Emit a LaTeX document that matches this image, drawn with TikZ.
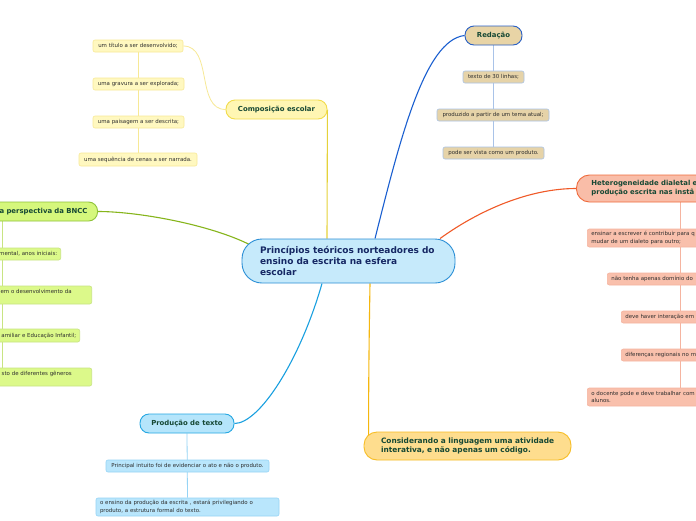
\documentclass[tikz,border=0pt]{standalone}
\usepackage{fontspec}
\setmainfont{DejaVu Sans}
\usetikzlibrary{backgrounds}
\definecolor{txt}{RGB}{45,45,45}
\definecolor{mtxt}{RGB}{22,72,52}
\definecolor{cenT}{RGB}{22,40,100}
\definecolor{cenF}{RGB}{198,234,251}
\definecolor{cenD}{RGB}{43,143,214}
\definecolor{redF}{RGB}{232,212,166}
\definecolor{redD}{RGB}{40,95,196}
\definecolor{redC}{RGB}{230,211,168}
\definecolor{redL}{RGB}{169,195,232}
\definecolor{redW}{RGB}{26,95,208}
\definecolor{compF}{RGB}{255,246,179}
\definecolor{compD}{RGB}{242,220,76}
\definecolor{compC}{RGB}{255,248,192}
\definecolor{compL}{RGB}{247,233,150}
\definecolor{compW}{RGB}{229,210,58}
\definecolor{bF}{RGB}{213,247,124}
\definecolor{bD}{RGB}{143,195,58}
\definecolor{bC}{RGB}{220,249,138}
\definecolor{bL}{RGB}{200,228,130}
\definecolor{bW}{RGB}{134,181,27}
\definecolor{hetF}{RGB}{249,189,168}
\definecolor{hetD}{RGB}{239,108,62}
\definecolor{hC}{RGB}{249,192,172}
\definecolor{hL}{RGB}{245,180,160}
\definecolor{hetW}{RGB}{240,90,40}
\definecolor{pF}{RGB}{181,229,251}
\definecolor{pD}{RGB}{37,167,226}
\definecolor{pC}{RGB}{185,230,252}
\definecolor{pL}{RGB}{150,212,245}
\definecolor{pW}{RGB}{26,160,224}
\definecolor{consF}{RGB}{254,221,142}
\definecolor{consD}{RGB}{247,189,37}
\definecolor{consW}{RGB}{245,183,15}
\tikzset{
  leaf/.style={rectangle, rounded corners=2pt, line width=0.6pt, font=\fontsize{5.45}{7.6}\selectfont, text=txt, inner ysep=0pt, inner xsep=2pt},
  mainbox/.style={rectangle, rounded corners=9pt, line width=0.9pt, font=\fontsize{6.9}{9}\selectfont\bfseries, text=mtxt, inner xsep=2pt, inner ysep=0pt},
  conn/.style={line width=1.1pt},
  sub/.style={line width=0.8pt},
}
\begin{document}
\begin{tikzpicture}[x=1pt,y=-1pt]
\useasboundingbox (0,0) rectangle (696,520);
\clip (0,0) rectangle (696,520);
% centre
\node[rectangle, rounded corners=20pt, fill=cenF, draw=cenD, line width=0.9pt, text width=177pt, align=left, inner xsep=18pt, inner ysep=0pt, minimum height=44pt, font=\fontsize{9}{11.4}\selectfont\bfseries, text=cenT] (c) at (348.5,261) {Princípios teóricos norteadores do\\ensino da escrita na esfera\\escolar};
% Redacao
\node[mainbox, fill=redF, draw=redD, minimum width=57pt, minimum height=19pt] (red) at (493.5,35.5) {Redação};
\node[leaf, fill=redC, draw=redL, minimum width=61pt, minimum height=12pt] (r1) at (493.5,77) {texto de 30 linhas;};
\node[leaf, fill=redC, draw=redL, minimum width=112pt, minimum height=12pt] (r2) at (493,115) {produzido a partir de um tema atual;};
\node[leaf, fill=redC, draw=redL, minimum width=101pt, minimum height=12pt] (r3) at (493.5,153) {pode ser vista como um produto.};
% Composicao
\node[mainbox, fill=compF, draw=compD, minimum width=101pt, minimum height=19pt] (comp) at (276.5,109.5) {Composição escolar};
\node[leaf, fill=compC, draw=compL, minimum width=90pt, minimum height=12pt] (k1) at (138,46) {um título a ser desenvolvido;};
\node[leaf, fill=compC, draw=compL, minimum width=91pt, minimum height=12pt] (k2) at (138.5,84) {uma gravura a ser explorada;};
\node[leaf, fill=compC, draw=compL, minimum width=91pt, minimum height=12pt] (k3) at (138.5,122) {uma paisagem a ser descrita;};
\node[leaf, fill=compC, draw=compL, minimum width=118pt, minimum height=13pt] (k4) at (138,159.5) {uma sequência de cenas a ser narrada.};
% BNCC
\node[mainbox, fill=bF, draw=bD, anchor=east, text width=182pt, align=right, inner xsep=10pt, minimum height=19pt] (bncc) at (98,211.5) {a perspectiva da BNCC};
\node[leaf, fill=bC, draw=bL, anchor=east, text width=120pt, align=right, inner xsep=3.5pt, minimum height=12pt] (b1) at (61,254) {mental, anos iniciais:};
\node[leaf, fill=bC, draw=bL, anchor=east, text width=120pt, align=right, inner xsep=3.5pt, minimum height=18pt] (b2) at (92,295) {em o desenvolvimento da\kern16.5pt\\\mbox{}};
\node[leaf, fill=bC, draw=bL, anchor=east, text width=120pt, align=right, inner xsep=3.5pt, minimum height=13pt] (b3) at (80,335.5) {amiliar e Educação Infantil;};
\node[leaf, fill=bC, draw=bL, anchor=east, text width=120pt, align=right, inner xsep=3.5pt, minimum height=18pt] (b4) at (92,377) {sto de diferentes gêneros\kern16.5pt\\\mbox{}};
% Heterogeneidade
\node[mainbox, rounded corners=13pt, fill=hetF, draw=hetD, anchor=west, text width=200pt, align=left, inner xsep=15pt, minimum height=27pt] (het) at (576,188.5) {Heterogeneidade dialetal e\\produção escrita nas instâ};
\node[leaf, fill=hC, draw=hL, anchor=west, text width=200pt, align=left, inner xsep=4pt, minimum height=18pt] (h1) at (587,238) {ensinar a escrever é contribuir para q\\mudar de um dialeto para outro;};
\node[leaf, fill=hC, draw=hL, anchor=west, text width=200pt, align=left, inner xsep=4pt, minimum height=12pt] (h2) at (607,279) {não tenha apenas domínio do};
\node[leaf, fill=hC, draw=hL, anchor=west, text width=200pt, align=left, inner xsep=4pt, minimum height=12pt] (h3) at (621,317) {deve haver interação em};
\node[leaf, fill=hC, draw=hL, anchor=west, text width=200pt, align=left, inner xsep=4pt, minimum height=12pt] (h4) at (621,355) {diferenças regionais no m};
\node[leaf, fill=hC, draw=hL, anchor=west, text width=200pt, align=left, inner xsep=4pt, minimum height=18pt] (h5) at (587,397) {o docente pode e deve trabalhar com\\alunos.};
% Producao
\node[mainbox, fill=pF, draw=pD, minimum width=94pt, minimum height=19pt] (prod) at (187,423.5) {Produção de texto};
\node[leaf, fill=pC, draw=pL, minimum width=163pt, minimum height=12pt] (p1) at (187.5,466) {Principal intuito foi de evidenciar o ato e não o produto.};
\node[leaf, fill=pC, draw=pL, text width=175pt, align=left, inner xsep=4pt, minimum height=18pt] (p2) at (187.5,507) {o ensino da produção da escrita , estará privilegiando o\\produto, a estrutura formal do texto.};
% Considerando
\node[mainbox, rounded corners=13pt, fill=consF, draw=consD, text width=173pt, align=left, inner xsep=17pt, minimum height=28pt, font=\fontsize{7.4}{9.2}\selectfont\bfseries] (cons) at (467.5,446) {\mbox{Considerando a linguagem uma atividade}\\\mbox{interativa, e não apenas um código.}};
% connectors
\begin{scope}[on background layer]
\fill[white] (0,0) rectangle (696,520);
\draw[conn, redW] ([xshift=26.5pt]c.north) .. controls +(25,-99) and +(-40,4.5) .. (red.west);
\draw[conn, hetW] ([xshift=91.5pt]c.north) .. controls +(40,-29) and +(-46,0) .. (het.west);
\draw[conn, consW] ([xshift=21.5pt]c.south) .. controls +(-1,60) and +(0,-60) .. ([xshift=5pt]cons.west);
\draw[conn, pW] ([xshift=-26.5pt]c.south) .. controls +(-22,77) and +(25,0) .. (prod.east);
\draw[conn, bW] ([xshift=8pt,yshift=-6pt]c.north west) .. controls +(-40,-20) and +(40,0) .. (bncc.east);
\draw[conn, compW] ([xshift=-21.5pt]c.north) -- (comp.east);
\draw[sub, compL] (k1.east) to[out=0,in=180] (comp.west);
\draw[sub, compL] (k1.south) -- (k4.north);
\draw[sub, redL] (red.south) -- (r3.north);
\draw[sub, pL] (prod.south) -- (p2.north);
\draw[sub, hL] ([xshift=104pt]het.south west) -- ([xshift=93pt]h5.north west);
\draw[sub, bL] ([xshift=107pt]bncc.south west) -- ([xshift=107pt]bncc.south west |- b4.north);
\end{scope}
\end{tikzpicture}
\end{document}
